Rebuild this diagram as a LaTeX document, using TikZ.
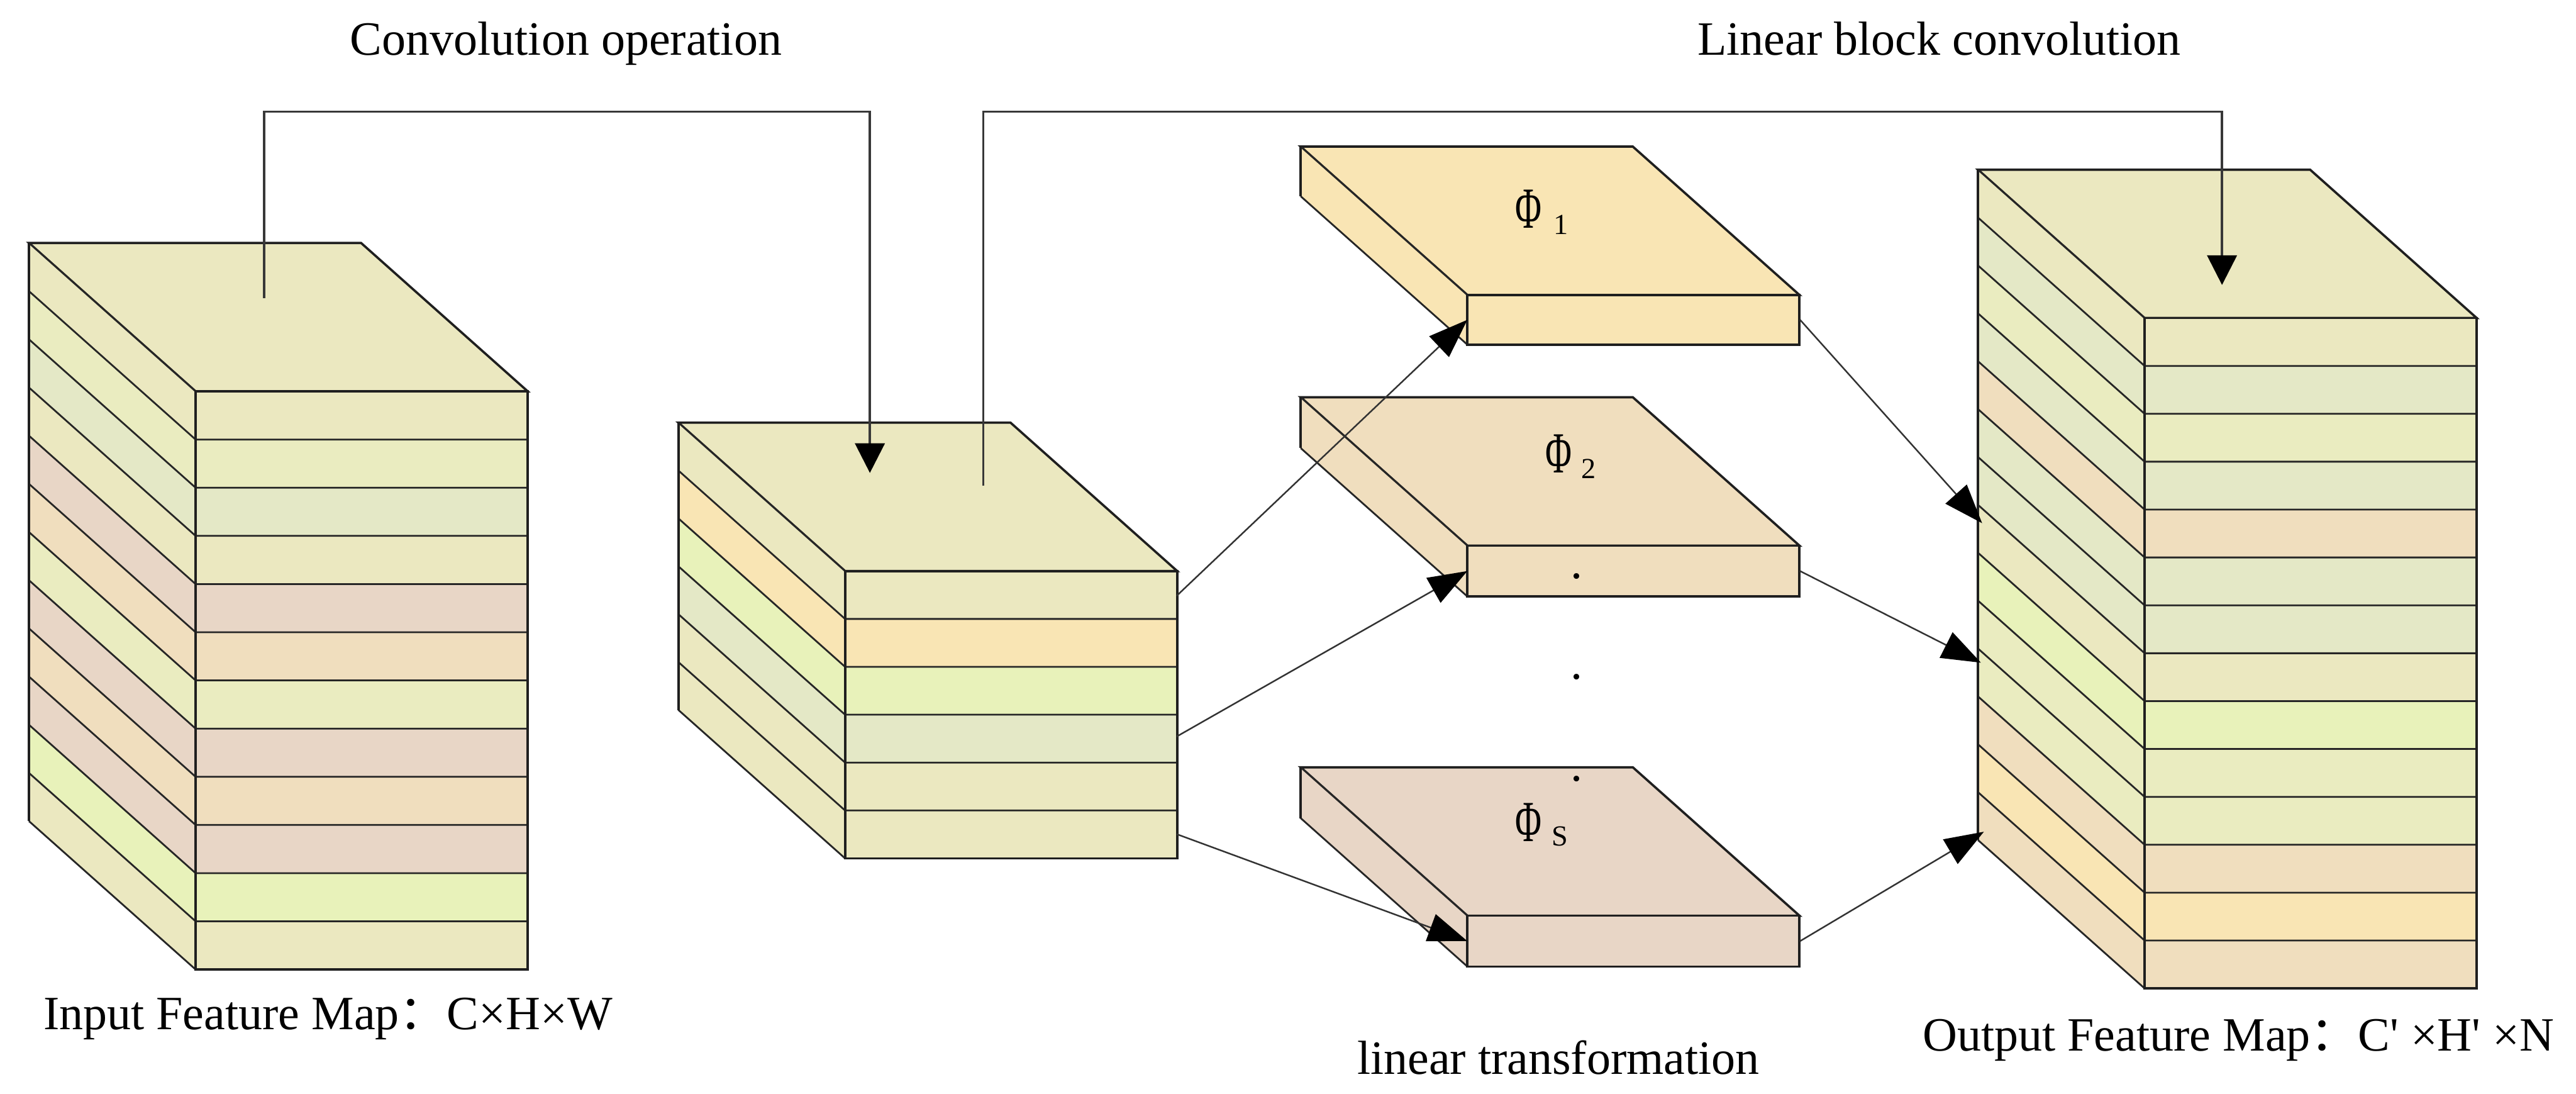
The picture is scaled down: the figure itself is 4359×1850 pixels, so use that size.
\documentclass[tikz,border=0pt]{standalone}
\usepackage{fontspec}
\setmainfont{Liberation Serif}
\newfontfamily\cjkf{Noto Sans CJK SC}
\usetikzlibrary{arrows.meta}
\definecolor{cY}{RGB}{235,232,192}
\definecolor{cW}{RGB}{234,236,192}
\definecolor{cG}{RGB}{228,232,198}
\definecolor{cP}{RGB}{232,214,198}
\definecolor{cO}{RGB}{240,222,190}
\definecolor{cL}{RGB}{232,242,186}
\definecolor{cA}{RGB}{249,229,180}
\tikzset{
  edge/.style={draw=black!88, line width=1.1pt},
  sepline/.style={draw=black!85, line width=0.85pt},
  conn/.style={draw=black!78, line width=1.1pt},
  diag/.style={draw=black!80, line width=0.75pt},
  bigtip/.style={-{Triangle[length=0.5cm,width=0.5cm,color=black]}},
  smalltip/.style={-{Triangle[length=0.66cm,width=0.48cm,color=black]}},
  lbl/.style={font=\fontsize{23pt}{27pt}\selectfont, inner sep=0pt},
  phil/.style={font=\fontsize{28pt}{32pt}\selectfont, inner sep=0pt},
  subl/.style={font=\fontsize{14pt}{16pt}\selectfont, inner sep=0pt}
}
% #1 fx, #2 fy, #3 layer height, #4 top colour, #5 layer colours
\newcommand{\featblock}[5]{%
  \foreach \col [count=\n] in {#5} {\xdef\nlay{\n}}
  \pgfmathsetmacro{\fb}{#2+\nlay*#3}
  \filldraw[fill=#4, edge] (#1,#2) -- (#1+562,#2) -- (#1+280,#2-251) -- (#1-282,#2-251) -- cycle;
  \foreach \col [count=\i from 0] in {#5} {
    \pgfmathsetmacro{\ya}{#2+\i*#3}
    \pgfmathsetmacro{\yb}{#2+(\i+1)*#3}
    \fill[\col] (#1,\ya) -- (#1,\yb) -- (#1-282,\yb-251) -- (#1-282,\ya-251) -- cycle;
    \fill[\col] (#1,\ya) rectangle (#1+562,\yb);
  }
  \foreach \col [count=\i from 0] in {#5} {
    \pgfmathsetmacro{\ya}{#2+\i*#3}
    \draw[sepline] (#1-282,\ya-251) -- (#1,\ya) -- (#1+562,\ya);
  }
  \draw[sepline] (#1-282,\fb-251) -- (#1,\fb);
  \draw[edge] (#1-282,#2-251) -- (#1-282,\fb-251);
  \draw[edge] (#1,#2) rectangle (#1+562,\fb);
}
\begin{document}
\begin{tikzpicture}[x=0.01cm, y=-0.01cm]
\fill[white] (0,0) rectangle (4359,1850);
\useasboundingbox (0,0) rectangle (4359,1850);

% input feature map
\featblock{331}{662}{81.5}{cY}{cY,cW,cG,cY,cP,cO,cW,cP,cO,cP,cL,cY}
% intermediate block
\featblock{1430}{966}{81}{cY}{cY,cA,cL,cG,cY,cY}
% plates
\featblock{2483}{499}{84}{cA}{cA}
\featblock{2483}{923}{86}{cO}{cO}
\featblock{2483}{1549}{86}{cP}{cP}
% output feature map
\featblock{3629}{538}{81}{cY}{cY,cG,cW,cG,cO,cG,cG,cY,cL,cW,cW,cO,cA,cO}

% named connector points
\coordinate (rowA) at (0,189);
\coordinate (inTop) at (447,504);
\coordinate (midIn) at (1472,800);
\coordinate (midUp) at (1664,822);
\coordinate (outIn) at (3760,482);
\coordinate (m1) at (1991,1008);
\coordinate (m2) at (1991,1246);
\coordinate (m3) at (1991,1411);
\coordinate (p1L) at (2483,541);
\coordinate (p2L) at (2483,966);
\coordinate (p3L) at (2483,1592);
\coordinate (p1R) at (3046,541);
\coordinate (p2R) at (3046,966);
\coordinate (p3R) at (3046,1592);
\coordinate (o1) at (3354,885);
\coordinate (o2) at (3352,1121);
\coordinate (o3) at (3357,1407);

% top connectors
\draw[conn, bigtip] (inTop) -- (inTop |- rowA) -- (midIn |- rowA) -- (midIn);
\draw[conn, bigtip] (midUp) -- (midUp |- rowA) -- (outIn |- rowA) -- (outIn);

% diagonal arrows
\draw[diag, smalltip] (m1) -- (p1L);
\draw[diag, smalltip] (m2) -- (p2L);
\draw[diag, smalltip] (m3) -- (p3L);
\draw[diag, smalltip] (p1R) -- (o1);
\draw[diag, smalltip] (p2R) -- (o2);
\draw[diag, smalltip] (p3R) -- (o3);

% plate labels
\node[phil] (f1) at (2587,353) {\scalebox{0.62}[1]{Φ}};
\node[subl] (s1) at (2641,380) {1};
\node[phil] (f2) at (2638,767) {\scalebox{0.62}[1]{Φ}};
\node[subl] (s2) at (2688,793) {2};
\node[phil] (f3) at (2587,1391) {\scalebox{0.62}[1]{Φ}};
\node[subl] (s3) at (2640,1415) {S};
\node[lbl] (d1) at (2668,975) {.};
\node[lbl] (d2) at (2668,1145) {.};
\node[lbl] (d3) at (2668,1318) {.};

% texts
\node[lbl, anchor=base west] (t1) at (592,93) {Convolution operation};
\node[lbl, anchor=base west] (t2) at (2872,93) {Linear block convolution};
\node[lbl, anchor=base west] (t3) at (73,1742) {Input Feature Map{\cjkf ：}C×H×W};
\node[lbl, anchor=base west] (t4) at (2296,1817) {linear transformation};
\node[lbl, anchor=base west] (t5) at (3253,1778) {Output Feature Map{\cjkf ：}C\textquotesingle\ ×H\textquotesingle\ ×N};
\end{tikzpicture}
\end{document}
